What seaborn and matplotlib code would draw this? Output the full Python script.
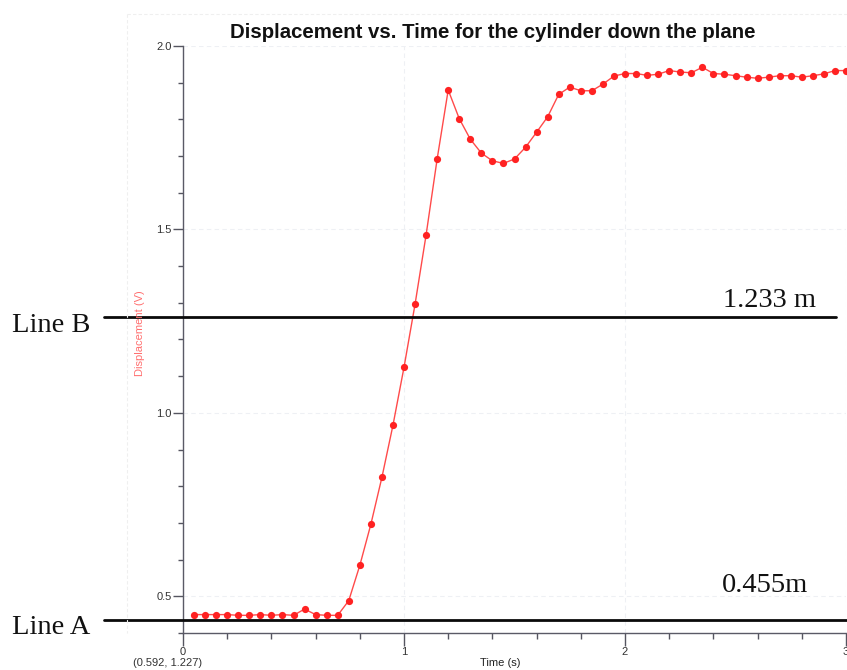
import numpy as np
import pandas as pd
import matplotlib
matplotlib.use("Agg")
import matplotlib.pyplot as plt
from matplotlib.lines import Line2D
import seaborn as sns

# ---------------- data ----------------
time_s = [0.05, 0.10, 0.15, 0.20, 0.25, 0.30, 0.35, 0.40, 0.45, 0.50,
          0.55, 0.60, 0.65, 0.70, 0.75, 0.80, 0.85, 0.90, 0.95, 1.00,
          1.05, 1.10, 1.15, 1.20, 1.25, 1.30, 1.35, 1.40, 1.45, 1.50,
          1.55, 1.60, 1.65, 1.70, 1.75, 1.80, 1.85, 1.90, 1.95, 2.00,
          2.05, 2.10, 2.15, 2.20, 2.25, 2.30, 2.35, 2.40, 2.45, 2.50,
          2.55, 2.60, 2.65, 2.70, 2.75, 2.80, 2.85, 2.90, 2.95, 3.00]
displacement = [0.450, 0.450, 0.450, 0.450, 0.448, 0.448, 0.450, 0.448, 0.450, 0.448,
                0.465, 0.450, 0.448, 0.448, 0.488, 0.584, 0.696, 0.824, 0.966, 1.124,
                1.296, 1.485, 1.692, 1.880, 1.802, 1.746, 1.708, 1.687, 1.680, 1.692,
                1.724, 1.765, 1.807, 1.868, 1.888, 1.878, 1.878, 1.896, 1.918, 1.925,
                1.925, 1.920, 1.923, 1.933, 1.929, 1.927, 1.942, 1.925, 1.923, 1.919,
                1.915, 1.912, 1.915, 1.919, 1.919, 1.915, 1.919, 1.924, 1.933, 1.933]

x_ticks = [0, 1, 2, 3]
x_tick_labels = ["0", "1", "2", "3"]
y_ticks = [0.5, 1.0, 1.5, 2.0]
y_tick_labels = ["0.5", "1.0", "1.5", "2.0"]

ref_line_values = [0.435, 1.260]          # Line A, Line B
ref_line_names = ["Line A", "Line B"]
ref_line_notes = ["0.455m", "1.233 m"]

title = "Displacement vs. Time for the cylinder down the plane"
cursor_text = "(0.592, 1.227)"

df = pd.DataFrame({"Time (s)": time_s, "Displacement (V)": displacement})

# ---------------- figure ----------------
sns.set_style("white")
plt.rcParams["font.family"] = ["Liberation Sans", "DejaVu Sans"]

W, H = 847, 670
fig = plt.figure(figsize=(W / 100, H / 100), dpi=100)
ax = fig.add_axes([183 / W, (H - 633.3) / H, (846 - 183) / W, (633.3 - 46) / H])

sns.lineplot(data=df, x="Time (s)", y="Displacement (V)", ax=ax,
             color="#ff4a4a", linewidth=1.0, marker="o", markersize=5.2,
             markerfacecolor="#ff2222", markeredgecolor="#ff2222",
             markeredgewidth=0, clip_on=False, zorder=5)

ax.set_xlim(0, 3)
ax.set_ylim(0.399, 2.0)

ax.set_xticks(x_ticks)
ax.set_xticklabels(x_tick_labels)
ax.set_yticks(y_ticks)
ax.set_yticklabels(y_tick_labels)
ax.set_xticks(np.arange(0, 3.01, 0.2), minor=True)
ax.set_yticks(np.arange(0.4, 2.01, 0.1), minor=True)

ax.tick_params(axis="x", which="major", direction="out", length=9, width=1,
               color="#555560", labelsize=8, labelcolor="#333333", pad=1, bottom=True)
ax.tick_params(axis="x", which="minor", direction="out", length=4, width=1,
               color="#555560", bottom=True)
ax.tick_params(axis="y", which="major", direction="out", length=7, width=1,
               color="#555560", labelsize=8, labelcolor="#333333", pad=1, left=True)
ax.tick_params(axis="y", which="minor", direction="out", length=3.5, width=1,
               color="#555560", left=True)

for s in ["top", "right"]:
    ax.spines[s].set_visible(False)
for s in ["left", "bottom"]:
    ax.spines[s].set_color("#5a5a66")
    ax.spines[s].set_linewidth(1.0)

ax.grid(True, which="major", color="#eef0f4", linestyle=(0, (4, 3)), linewidth=0.8)
ax.set_axisbelow(True)

ax.set_xlabel("")
ax.set_ylabel("")

# faint outer frame of the graph window
fig.add_artist(Line2D([127 / W, 127 / W], [(H - 14) / H, (H - 633) / H],
                      transform=fig.transFigure, color="#efefef", lw=0.8,
                      linestyle=(0, (3, 2))))
fig.add_artist(Line2D([127 / W, 1.0], [(H - 14) / H, (H - 14) / H],
                      transform=fig.transFigure, color="#efefef", lw=0.8,
                      linestyle=(0, (3, 2))))

# titles and axis labels
fig.text(492.5 / W, (H - 32) / H, title, ha="center", va="center",
         fontsize=14.7, fontweight="bold", color="#111111")
fig.text(140 / W, (H - 333) / H, "Displacement (V)", rotation=90,
         ha="center", va="center", fontsize=8, color="#ff6f6f")
fig.text(500 / W, (H - 663) / H, "Time (s)", ha="center", va="center",
         fontsize=8, color="#222222")
fig.text(133 / W, (H - 663) / H, cursor_text, ha="left", va="center",
         fontsize=8, color="#333333")

# reference lines (drawn in data coordinates, extending beyond axes)
serif = ["Liberation Serif", "DejaVu Serif"]
line_x_ranges = [(-0.357, 3.01), (-0.357, 2.955)]
name_baselines = [634, 331.7]
note_pos = [(722, 592.3), (723, 306.7)]
for val, (x0, x1), name, note, nb, (nx, ny) in zip(
        ref_line_values, line_x_ranges, ref_line_names, ref_line_notes,
        name_baselines, note_pos):
    ax.plot([x0, x1], [val, val], color="#0a0a0a", lw=2.0, clip_on=False, zorder=6)
    fig.text(12 / W, (H - nb) / H, name, ha="left", va="baseline",
             fontsize=20.5, family=serif, color="#111111")
    fig.text(nx / W, (H - ny) / H, note, ha="left", va="baseline",
             fontsize=20.5, family=serif, color="#111111")

fig.savefig("out.png", dpi=100)
